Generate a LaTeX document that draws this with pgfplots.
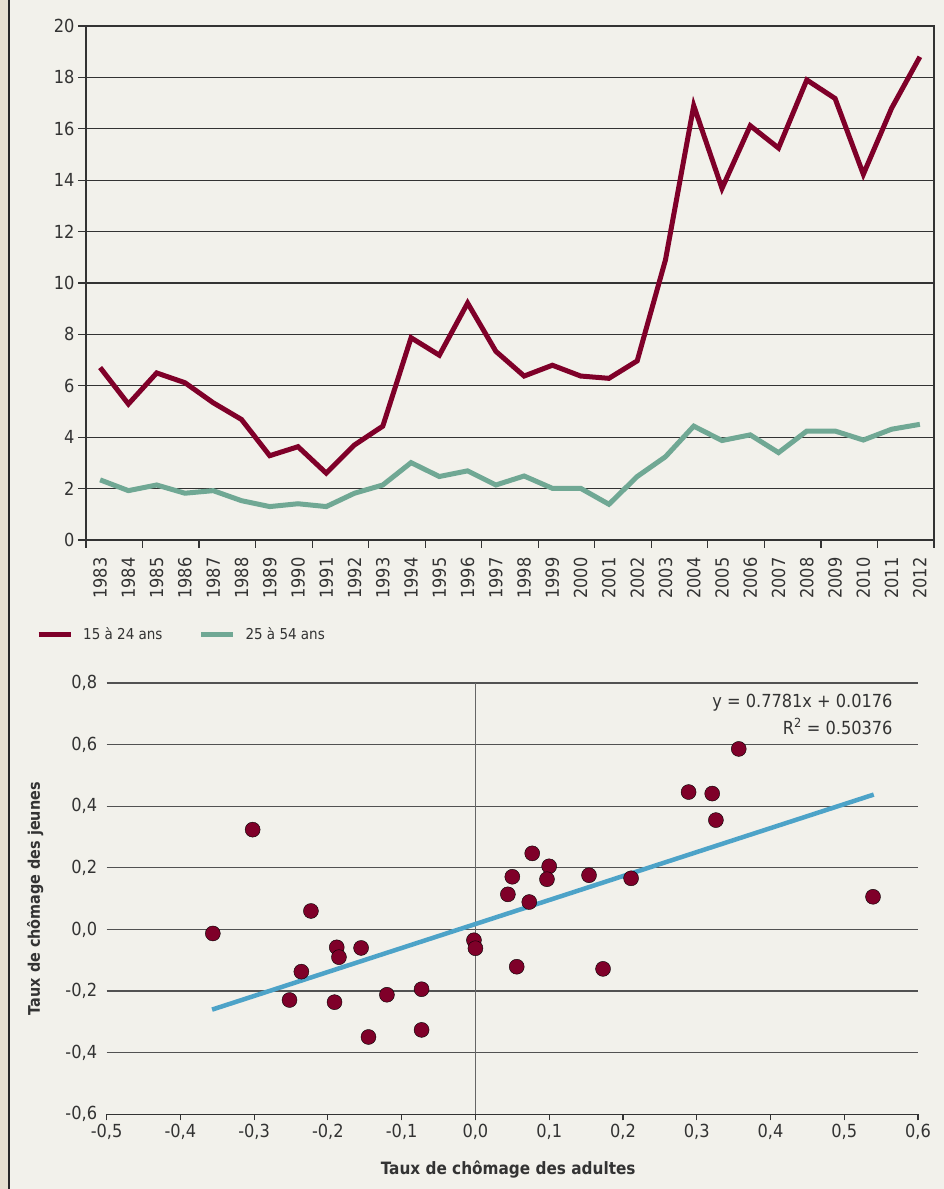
\documentclass[border=0pt]{standalone}
\usepackage{fontspec}
\setmainfont{DejaVu Sans Condensed}
\usepackage{pgfplots}
\pgfplotsset{compat=1.18}
\definecolor{bg}{HTML}{F2F1EB}
\definecolor{strip}{HTML}{E5DFCF}
\definecolor{dred}{HTML}{7F0029}
\definecolor{sgreen}{HTML}{70A894}
\definecolor{sblue}{HTML}{4DA3C8}
\definecolor{txt}{HTML}{333333}
\definecolor{gridc}{HTML}{333333}

\pgfplotstableread{
i  young adult
0  6.71 2.34
1  5.29 1.92
2  6.50 2.14
3  6.12 1.82
4  5.34 1.92
5  4.69 1.53
6  3.28 1.30
7  3.63 1.41
8  2.60 1.30
9  3.70 1.82
10 4.43 2.14
11 7.87 3.01
12 7.19 2.47
13 9.22 2.69
14 7.34 2.14
15 6.38 2.49
16 6.80 2.01
17 6.38 2.01
18 6.29 1.39
19 6.97 2.47
20 10.90 3.24
21 16.90 4.43
22 13.68 3.87
23 16.12 4.09
24 15.25 3.40
25 17.90 4.24
26 17.18 4.24
27 14.23 3.89
28 16.80 4.31
29 18.80 4.50
}\series

\pgfplotstableread{
x y
-0.302 0.324
-0.356 -0.013
-0.223 0.060
-0.188 -0.058
-0.185 -0.090
-0.155 -0.060
-0.236 -0.137
-0.252 -0.229
-0.191 -0.236
-0.120 -0.212
-0.073 -0.194
-0.145 -0.349
-0.073 -0.326
-0.002 -0.035
0.000 -0.061
0.056 -0.121
0.173 -0.128
0.044 0.114
0.050 0.171
0.073 0.089
0.077 0.247
0.100 0.205
0.097 0.163
0.154 0.176
0.211 0.166
0.289 0.446
0.321 0.441
0.326 0.355
0.357 0.586
0.539 0.106
}\scatterdata

\begin{document}
\begin{tikzpicture}[x=1pt,y=1pt]
\fill[bg] (0,0) rectangle (944,1189);
\fill[strip] (0,0) rectangle (8,1189);
\fill[black!85] (7.5,0) rectangle (10,1189);
\useasboundingbox (0,0) rectangle (944,1189);

\begin{axis}[
  at={(86pt,649pt)}, anchor=south west,
  scale only axis, width=848pt, height=514pt,
  xmin=-0.5, xmax=29.5, ymin=0, ymax=20,
  xtick={0,...,29},
  xticklabels={1983,1984,1985,1986,1987,1988,1989,1990,1991,1992,1993,1994,1995,1996,1997,1998,1999,2000,2001,2002,2003,2004,2005,2006,2007,2008,2009,2010,2011,2012},
  minor xtick={-0.5,1.5,...,29.5},
  ytick={0,2,...,20},
  xtick pos=left, ytick pos=left,
  tick align=outside,
  major tick length=8pt, minor tick length=8pt,
  every major x tick/.append style={draw=none},
  every minor x tick/.append style={draw=gridc, line width=1.2pt},
  every major y tick/.append style={draw=gridc, line width=1.2pt},
  ymajorgrids, major grid style={gridc, line width=1.2pt},
  axis line style={gridc, line width=1.2pt},
  tick label style={font=\fontsize{18}{22}\selectfont, text=txt},
  xticklabel style={rotate=90, anchor=east},
  xticklabel shift=6pt,
  /pgf/number format/assume math mode=true,
  legend style={at={(-0.0625,-0.183)}, anchor=west, draw=none, fill=none,
    font=\fontsize{15}{18}\selectfont, text=txt,
    /tikz/every even column/.append style={column sep=34pt},
    /tikz/every odd column/.append style={column sep=8pt}},
  legend columns=2,
  legend image code/.code={\draw[#1] (0pt,0pt) -- (32pt,0pt);},
]
\addplot[dred, line width=5pt] table[x=i, y=young] {\series};
\addlegendentry{15 à 24 ans}
\addplot[sgreen, line width=5pt] table[x=i, y=adult] {\series};
\addlegendentry{25 à 54 ans}
\end{axis}

\begin{axis}[
  at={(106.6pt,74.7pt)}, anchor=south west,
  scale only axis, width=811.4pt, height=431.3pt,
  xmin=-0.5, xmax=0.6, ymin=-0.6, ymax=0.8,
  xtick={-0.5,-0.4,-0.3,-0.2,-0.1,0,0.1,0.2,0.3,0.4,0.5,0.6},
  ytick={-0.6,-0.4,-0.2,0,0.2,0.4,0.6,0.8},
  axis x line*=bottom, axis y line*=left,
  y axis line style={draw=none},
  x axis line style={gridc, line width=1.2pt},
  tick align=outside, major tick length=6pt,
  every major x tick/.append style={draw=gridc, line width=1.2pt},
  every major y tick/.append style={draw=none},
  ymajorgrids, major grid style={gridc!85, line width=1.2pt},
  extra x ticks={0}, extra x tick labels={},
  extra x tick style={grid=major, major grid style={gray!80!black, line width=1.2pt}},
  tick label style={font=\fontsize{18}{22}\selectfont, text=txt},
  /pgf/number format/.cd, use comma, fixed, fixed zerofill, precision=1, assume math mode=true,
  /pgfplots/.cd,
  xlabel={Taux de chômage des adultes},
  ylabel={Taux de chômage des jeunes},
  xlabel style={font=\bfseries\fontsize{17}{20}\selectfont, text=txt, at={(rel axis cs:0.495,-0.127)}, anchor=center},
  ylabel style={font=\bfseries\fontsize{16}{19}\selectfont, text=txt, at={(rel axis cs:-0.088,0.5)}, anchor=center, rotate=0},
]
\addplot[sblue, line width=4.5pt] coordinates {(-0.357,-0.2602) (0.540,0.4378)};
\addplot[only marks, mark=*, mark size=7.5pt, mark options={draw=none, fill=dred}] table[x=x, y=y] {\scatterdata};
\node[anchor=east, font=\fontsize{18}{22}\selectfont, text=txt] at (rel axis cs:0.973,0.954) {y = 0.7781x + 0.0176};
\node[anchor=east, font=\fontsize{18}{22}\selectfont, text=txt] at (rel axis cs:0.973,0.899) {R\textsuperscript{2} = 0.50376};
\end{axis}
\end{tikzpicture}
\end{document}
